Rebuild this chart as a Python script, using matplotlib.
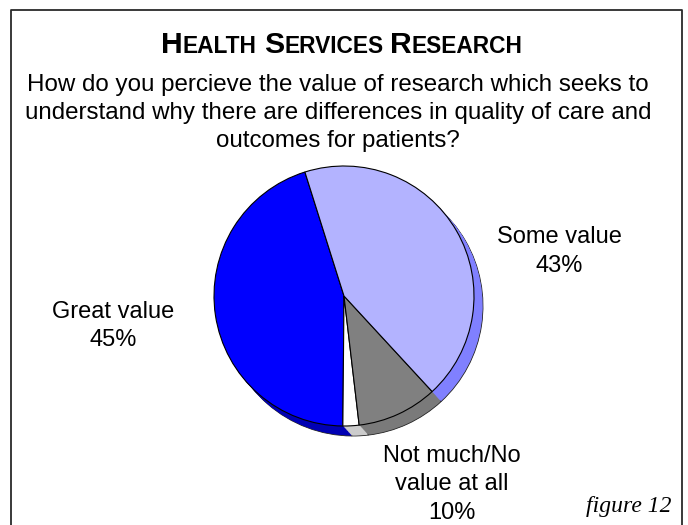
import matplotlib.pyplot as plt
from matplotlib.lines import Line2D

W, H = 688, 525

title_words = ['Health', 'Services', 'Research']
question = ['How do you percieve the value of research which seeks to',
            'understand why there are differences in quality of care and',
            'outcomes for patients?']
labels = ['Great value', '', 'Not much/No\nvalue at all', 'Some value']
values = [45, 2, 10, 43]
top_colors = ['#0000ff', '#ffffff', '#808080', '#b3b3ff']
side_colors = ['#0000b4', '#cccccc', '#7a7a7a', '#8080ff']
caption = 'figure 12'

plt.rcParams['font.family'] = ['Liberation Sans', 'DejaVu Sans']

fig = plt.figure(figsize=(W / 100, H / 100), dpi=100)
ax = fig.add_axes([0, 0, 1, 1])

# pie in pixel units, y pointing up
cx, cy, r = 344, H - 296, 130
dx, dy = 9, -10
steps = 14
for i in range(steps, 0, -1):
    f = i / steps
    ax.pie(values, colors=side_colors, startangle=107.5, radius=r,
           center=(cx + dx * f, cy + dy * f),
           wedgeprops=dict(linewidth=0.6 if i == steps else 0, edgecolor='#222222'))
ax.pie(values, colors=top_colors, startangle=107.5, radius=r, center=(cx, cy),
       wedgeprops=dict(linewidth=0.8, edgecolor='black'))

ax.set_xlim(0, W)
ax.set_ylim(0, H)
ax.set_aspect('auto')
ax.axis('off')

# outer frame (left, top, right)
fx0, fx1, fy = 11, 682, H - 10
ax.add_line(Line2D([fx0, fx0, fx1, fx1], [0, fy, fy, 0], color='#2a2a2a', lw=1.3))

# small-caps title
renderer = fig.canvas.get_renderer()
parts = []
for word in title_words:
    big = ax.text(0, 0, word[0].upper(), fontsize=21.7, fontweight='bold', va='baseline')
    small = ax.text(0, 0, word[1:].upper(), fontsize=16.4, fontweight='bold', va='baseline')
    parts.append([big, small])
gap = 7
widths = [[t.get_window_extent(renderer).width for t in p] for p in parts]
total = sum(sum(w) for w in widths) + gap * (len(parts) - 1)
x = 342 - total / 2
for p, w in zip(parts, widths):
    for t, tw in zip(p, w):
        t.set_x(x)
        t.set_y(H - 53)
        x += tw
    x += gap

# question lines
for k, line in enumerate(question):
    ax.text(338, H - (90.5 + 28.3 * k), line, fontsize=17.4, ha='center', va='baseline')

# slice labels
label_pos = {0: (113, 318), 2: (452, 462), 3: (559.5, 243)}
for idx, (lx, ly) in label_pos.items():
    lines = labels[idx].split('\n') + [f'{values[idx]}%']
    for k, line in enumerate(lines):
        ax.text(lx, H - (ly + 28.5 * k), line, fontsize=17, ha='center', va='baseline')

ax.text(672, H - 512, caption, fontsize=17, ha='right', va='baseline',
        family='Liberation Serif', style='italic')

fig.savefig('out.png', dpi=100)
